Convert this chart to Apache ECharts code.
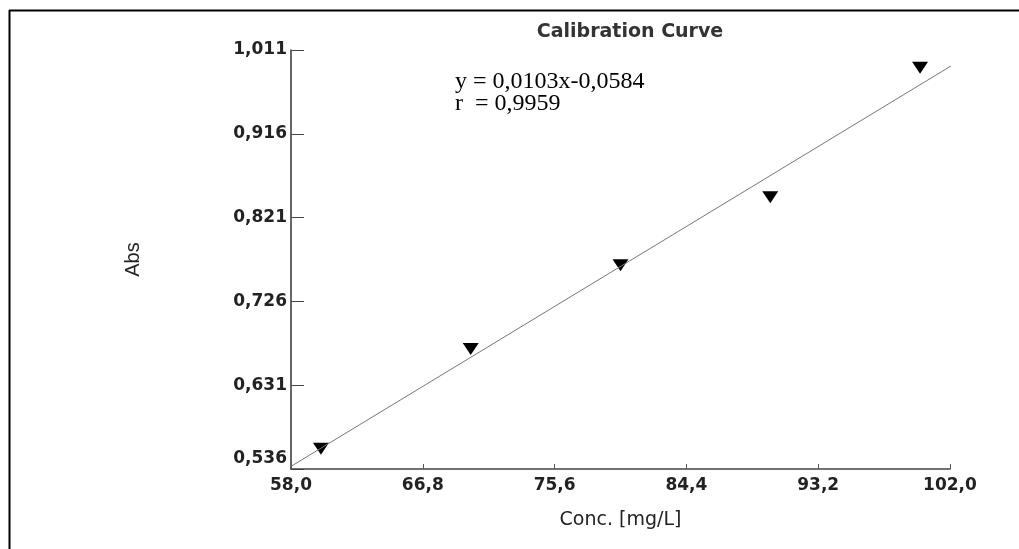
<!DOCTYPE html>
<html>
<head>
<meta charset="utf-8">
<script src="https://cdn.jsdelivr.net/npm/echarts@6/dist/echarts.min.js"></script>
<style>
  html, body { margin: 0; padding: 0; background: #fff; }
  #chart { width: 1019px; height: 549px; }
</style>
</head>
<body>
<div id="chart"></div>
<script>
// Calibration standards: concentration (mg/L) vs absorbance
const conc = [60, 70, 80, 90, 100];
const absorbance = [0.559, 0.672, 0.767, 0.844, 0.991];

// Tick positions shown on each axis
const xTicks = [58.0, 66.8, 75.6, 84.4, 93.2, 102.0];
const yTicks = [0.536, 0.631, 0.726, 0.821, 0.916, 1.011];

// Linear regression y = a*x + b and its correlation coefficient
const fitSlope = 0.0103;
const fitIntercept = -0.0584;
const fitR = 0.9959;
const fitRange = [58.0, 102.6];

const comma = (v, d) => v.toFixed(d).replace('.', ',');

const points = conc.map((c, i) => [c, absorbance[i]]);
const fitLine = fitRange.map(x => [x, fitSlope * x + fitIntercept]);

const tickFont = { fontFamily: 'DejaVu Sans', fontWeight: 'bold', fontSize: 17, color: '#222' };

const chart = echarts.init(document.getElementById('chart'), null, { renderer: 'canvas' });
chart.setOption({
  animation: false,
  backgroundColor: '#fff',
  title: {
    text: 'Calibration Curve',
    left: 625,
    top: 18,
    textAlign: 'center',
    textStyle: { fontFamily: 'DejaVu Sans', fontWeight: 'bold', fontSize: 19, color: '#333' }
  },
  grid: { left: 291, right: 69, top: 50, bottom: 80, containLabel: false },
  xAxis: {
    type: 'value',
    min: xTicks[0],
    max: xTicks[xTicks.length - 1],
    name: 'Conc. [mg/L]',
    nameLocation: 'middle',
    nameGap: 42,
    nameTextStyle: { fontFamily: 'DejaVu Sans', fontSize: 19, color: '#222' },
    axisLine: { lineStyle: { color: '#444', width: 1.5 } },
    axisTick: { inside: true, length: 5, customValues: xTicks, lineStyle: { color: '#555' } },
    axisLabel: {
      customValues: xTicks,
      margin: 8,
      formatter: v => comma(v, 1),
      ...tickFont
    },
    splitLine: { show: false }
  },
  yAxis: {
    type: 'value',
    min: yTicks[0],
    max: yTicks[yTicks.length - 1],
    name: 'Abs',
    nameLocation: 'middle',
    nameGap: 148,
    nameTextStyle: { fontFamily: 'Liberation Sans', fontSize: 20, color: '#222' },
    axisLine: { lineStyle: { color: '#333', width: 1.5 } },
    axisTick: { inside: true, length: 13, customValues: yTicks, lineStyle: { color: '#444' } },
    axisLabel: {
      customValues: yTicks,
      margin: 4,
      formatter: v => {
        const s = comma(v, 3);
        return v === yTicks[0] ? '{low|' + s + '}' : s;
      },
      rich: {
        low: { ...tickFont, padding: [0, 0, 20, 0] }
      },
      ...tickFont
    },
    splitLine: { show: false }
  },
  graphic: [
    // frame lines along the top and left edges
    { type: 'line', shape: { x1: 9, y1: 10.5, x2: 1019, y2: 10.5 }, style: { stroke: '#000', lineWidth: 2 } },
    { type: 'line', shape: { x1: 9.5, y1: 10, x2: 9.5, y2: 549 }, style: { stroke: '#000', lineWidth: 2 } },
    // regression equation
    {
      type: 'text', left: 455, top: 70,
      style: {
        text: 'y = ' + comma(fitSlope, 4) + 'x' + comma(fitIntercept, 4),
        font: '24px "Liberation Serif"', fill: '#000'
      }
    },
    {
      type: 'text', left: 455, top: 92,
      style: {
        text: 'r  = ' + comma(fitR, 4),
        font: '24px "Liberation Serif"', fill: '#000'
      }
    }
  ],
  series: [
    {
      name: 'Fit',
      type: 'line',
      data: fitLine,
      showSymbol: false,
      clip: false,
      silent: true,
      lineStyle: { color: '#777', width: 1 }
    },
    {
      name: 'Standards',
      type: 'scatter',
      data: points,
      symbol: 'triangle',
      symbolRotate: 180,
      symbolSize: [16, 12],
      itemStyle: { color: '#000', opacity: 1 }
    }
  ]
});
</script>
</body>
</html>
